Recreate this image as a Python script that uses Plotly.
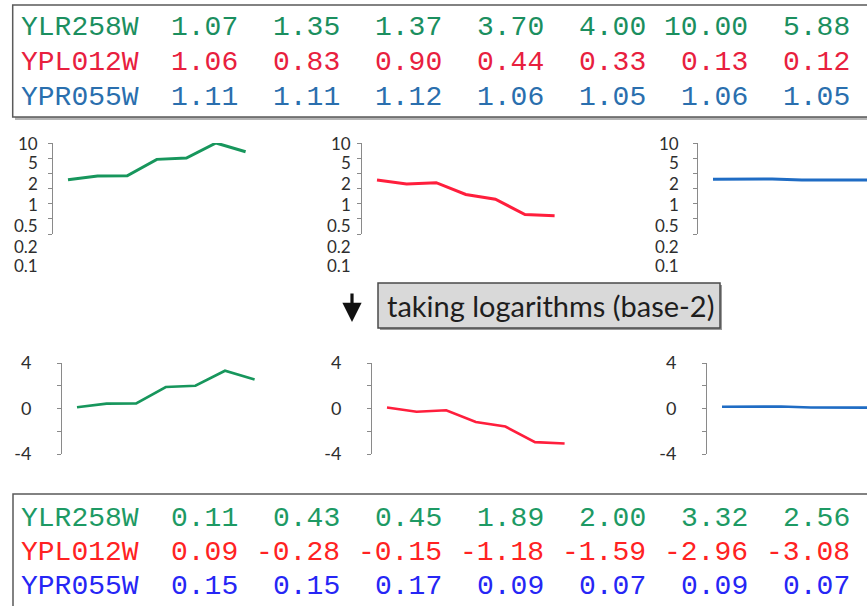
import numpy as np
import plotly.graph_objects as go

# ---- data -------------------------------------------------------------
genes = ["YLR258W", "YPL012W", "YPR055W"]
ratios = {
    "YLR258W": [1.07, 1.35, 1.37, 3.70, 4.00, 10.00, 5.88],
    "YPL012W": [1.06, 0.83, 0.90, 0.44, 0.33, 0.13, 0.12],
    "YPR055W": [1.11, 1.11, 1.12, 1.06, 1.05, 1.06, 1.05],
}
log2_ratios = {
    "YLR258W": [0.11, 0.43, 0.45, 1.89, 2.00, 3.32, 2.56],
    "YPL012W": [0.09, -0.28, -0.15, -1.18, -1.59, -2.96, -3.08],
    "YPR055W": [0.15, 0.15, 0.17, 0.09, 0.07, 0.09, 0.07],
}
ratio_tick_labels = ["10", "5", "2", "1", "0.5", "0.2", "0.1"]
log_tick_vals = [-4, -2, 0, 2, 4]
log_tick_text = ["-4", "", "0", "", "4"]
caption = "taking logarithms (base-2)"

# ---- styling ----------------------------------------------------------
W, H = 867, 606
line_colors = {"YLR258W": "#17965c", "YPL012W": "#ff1e3c", "YPR055W": "#1f6cc4"}
top_text_colors = {"YLR258W": "#1b8f5f", "YPL012W": "#e8203e", "YPR055W": "#2a6fae"}
bottom_text_colors = {"YLR258W": "#1d9a64", "YPL012W": "#ff2222", "YPR055W": "#2626f5"}
AXIS_GREY = "#8a8a8a"
LABEL_FONT = "Lato"
MONO_FONT = "Liberation Mono"


def px(x):
    return x / W


def py(y):
    return 1 - y / H


fig = go.Figure()

step = 29.6          # horizontal distance between consecutive samples
lead = 15.0          # gap between the y axis and the first sample
top_axis_x = [53, 362, 698]
bot_axis_x = [62, 372, 707]
top_label_x = [40, 353, 681]
top_y = (143, 234)
bot_y = (363, 454)
panel_w = 235

n = 0
for row, (axes_x, yspan) in enumerate([(top_axis_x, top_y), (bot_axis_x, bot_y)]):
    for i, g in enumerate(genes):
        n += 1
        xa = "x" if n == 1 else f"x{n}"
        ya = "y" if n == 1 else f"y{n}"
        x0 = axes_x[i]
        x1 = min(x0 + panel_w, W)
        r0 = -lead / step
        r1 = r0 + (x1 - x0) / step
        vals = ratios[g] if row == 0 else log2_ratios[g]
        fig.add_trace(go.Scatter(
            x=list(range(len(vals))), y=vals, mode="lines",
            line=dict(color=line_colors[g], width=3 if row == 0 else 2.6),
            xaxis=xa, yaxis=ya, showlegend=False, hoverinfo="skip",
        ))
        xkey = "xaxis" if n == 1 else f"xaxis{n}"
        ykey = "yaxis" if n == 1 else f"yaxis{n}"
        fig.layout[xkey] = dict(domain=[px(x0), px(x1)], range=[r0, r1],
                                visible=False, anchor=ya, automargin=False)
        common = dict(domain=[py(yspan[1]), py(yspan[0])], anchor=xa,
                      showgrid=False, zeroline=False, showline=True,
                      linecolor=AXIS_GREY, linewidth=1, ticks="outside",
                      ticklen=4, tickcolor=AXIS_GREY, tickwidth=1,
                      automargin=False)
        if row == 0:
            # log-scaled ratio axis: seven evenly spaced ticks, labels set apart
            lo, hi = -1.4, 1.0
            tv = [10 ** (hi - k * (hi - lo) / 6) for k in range(7)]
            fig.layout[ykey] = dict(type="log", range=[lo, hi], tickvals=tv,
                                    showticklabels=False, **common)
        else:
            fig.layout[ykey] = dict(range=[-4, 4], tickvals=log_tick_vals,
                                    ticktext=log_tick_text,
                                    ticklabelstandoff=22,
                                    tickfont=dict(family=LABEL_FONT, size=18,
                                                  color="#2e2e2e"),
                                    **common)

annotations = []
# ratio-axis labels
label_y = [143, 162, 183, 205, 226, 246, 265]
for i in range(3):
    for lab, yy in zip(ratio_tick_labels, label_y):
        annotations.append(dict(
            x=px(top_label_x[i]), y=py(yy), xref="paper", yref="paper",
            text=lab, showarrow=False, xanchor="right", yanchor="middle",
            font=dict(family=LABEL_FONT, size=17, color="#2e2e2e")))


def table(rows_y, values, colors):
    for g, yy in zip(genes, rows_y):
        annotations.append(dict(
            x=px(19), y=py(yy), xref="paper", yref="paper", text=g,
            showarrow=False, xanchor="left", yanchor="middle",
            font=dict(family=MONO_FONT, size=28, color=colors[g])))
        for k, v in enumerate(values[g]):
            annotations.append(dict(
                x=px(240 + 102 * k), y=py(yy), xref="paper", yref="paper",
                text=f"{v:.2f}", showarrow=False, xanchor="right",
                yanchor="middle",
                font=dict(family=MONO_FONT, size=28, color=colors[g])))


table([27, 62, 97], ratios, top_text_colors)
table([518, 552, 586], log2_ratios, bottom_text_colors)

# caption and arrow
annotations.append(dict(
    x=px(385), y=py(305), xref="paper", yref="paper", text=caption,
    showarrow=False, xanchor="left", yanchor="middle",
    font=dict(family=LABEL_FONT, size=29, color="#1e1e1e")))
annotations.append(dict(
    x=px(352), y=py(322), xref="paper", yref="paper", text="",
    showarrow=True, ax=0, ay=-30, arrowhead=2, arrowsize=1.2,
    arrowwidth=3.2, arrowcolor="#111"))

shapes = [
    # table frames with a soft drop shadow
    dict(type="rect", xref="paper", yref="paper", x0=px(15), x1=px(880),
         y0=py(120), y1=py(7), line=dict(width=0), fillcolor="#b5b5b5"),
    dict(type="rect", xref="paper", yref="paper", x0=px(12.7), x1=px(878),
         y0=py(117), y1=py(5), line=dict(color="#5a5a5a", width=1.5),
         fillcolor="white"),
    dict(type="rect", xref="paper", yref="paper", x0=px(13), x1=px(878),
         y0=py(620), y1=py(494), line=dict(color="#5a5a5a", width=1.5),
         fillcolor="white"),
    # caption box
    dict(type="rect", xref="paper", yref="paper", x0=px(380), x1=px(722),
         y0=py(330), y1=py(285), line=dict(width=0), fillcolor="#9a9a9a"),
    dict(type="rect", xref="paper", yref="paper", x0=px(378), x1=px(720),
         y0=py(328), y1=py(283), line=dict(color="#4a4a4a", width=1.5),
         fillcolor="#d9d9d9"),
]

fig.update_layout(width=W, height=H,
                  margin=dict(l=0, r=0, t=0, b=0, autoexpand=False),
                  paper_bgcolor="white", plot_bgcolor="rgba(0,0,0,0)",
                  annotations=annotations, shapes=shapes, showlegend=False)
fig.write_html("out.html")
